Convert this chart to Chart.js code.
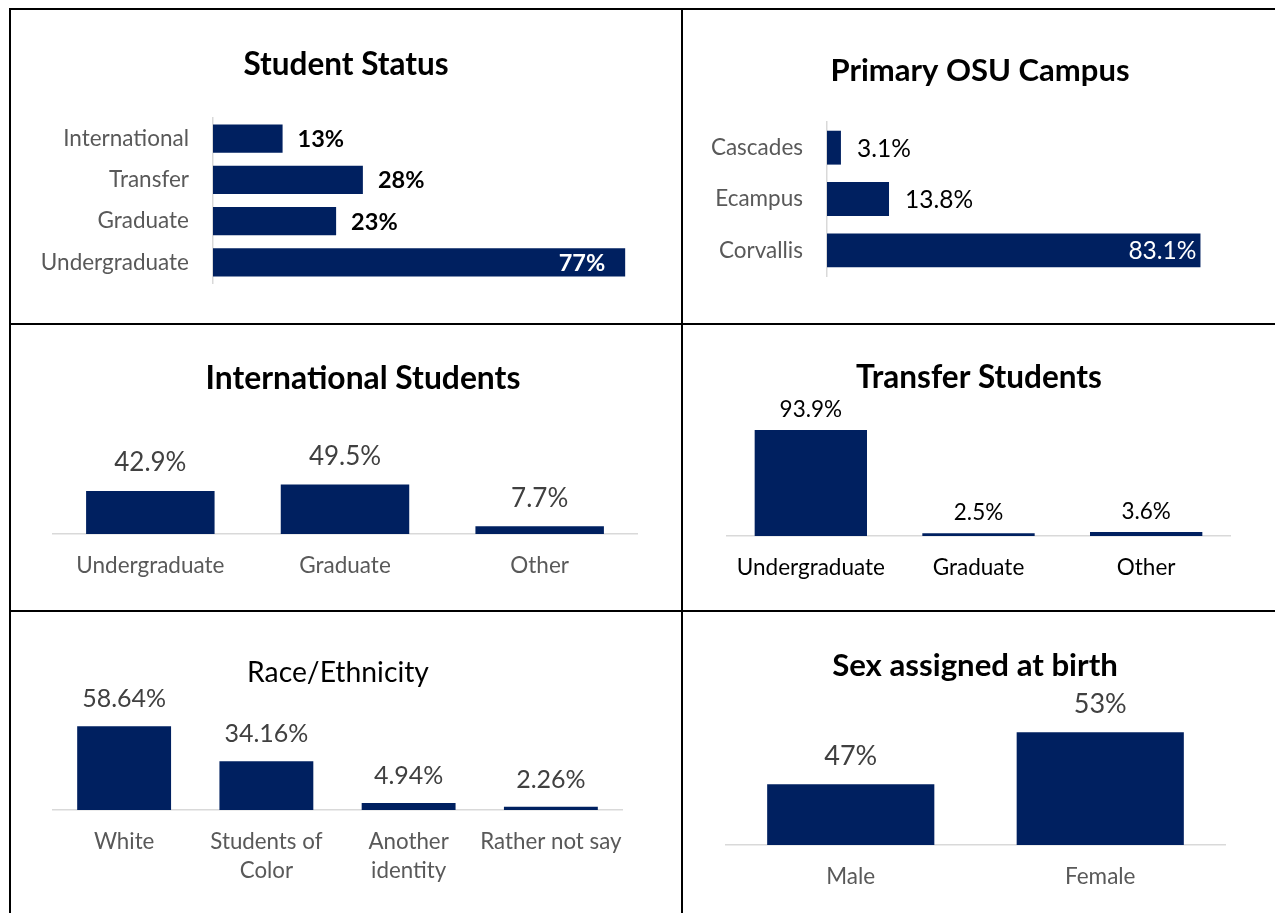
<!DOCTYPE html>
<html><head><meta charset="utf-8">
<script src="https://cdn.jsdelivr.net/npm/chart.js@4.4.1/dist/chart.umd.min.js"></script>
<style>
html,body{margin:0;padding:0;background:#fff;width:1275px;height:913px;overflow:hidden;}
.cell{position:absolute;}
.line{position:absolute;background:#000;}
</style></head><body>
<div class="line" style="left:9px;top:8px;width:1266px;height:2px"></div>
<div class="line" style="left:9px;top:8px;width:2px;height:905px"></div>
<div class="line" style="left:681px;top:8px;width:2px;height:905px"></div>
<div class="line" style="left:9px;top:323px;width:1266px;height:2px"></div>
<div class="line" style="left:9px;top:610px;width:1266px;height:2px"></div>
<div class="cell" id="c1" style="left:11px;top:10px;width:670px;height:313px"><canvas id="k1"></canvas></div>
<div class="cell" id="c2" style="left:683px;top:10px;width:592px;height:313px"><canvas id="k2"></canvas></div>
<div class="cell" id="c3" style="left:11px;top:325px;width:670px;height:285px"><canvas id="k3"></canvas></div>
<div class="cell" id="c4" style="left:683px;top:325px;width:592px;height:285px"><canvas id="k4"></canvas></div>
<div class="cell" id="c5" style="left:11px;top:612px;width:670px;height:301px"><canvas id="k5"></canvas></div>
<div class="cell" id="c6" style="left:683px;top:612px;width:592px;height:301px"><canvas id="k6"></canvas></div>
<script>
// ---- data ----
const statusCategories = ['International', 'Transfer', 'Graduate', 'Undergraduate'];
const statusValues = [13, 28, 23, 77];

const campusCategories = ['Cascades', 'Ecampus', 'Corvallis'];
const campusValues = [3.1, 13.8, 83.1];

const intlCategories = ['Undergraduate', 'Graduate', 'Other'];
const intlValues = [42.9, 49.5, 7.7];

const transferCategories = ['Undergraduate', 'Graduate', 'Other'];
const transferValues = [93.9, 2.5, 3.6];

const raceCategories = ['White', ['Students of', 'Color'], ['Another', 'identity'], 'Rather not say'];
const raceValues = [58.64, 34.16, 4.94, 2.26];

const sexCategories = ['Male', 'Female'];
const sexValues = [47, 53];

// ---- style ----
const FONT = 'Lato, "Open Sans", sans-serif';
const BAR = '#002060';

const valueLabels = {
  id: 'valueLabels',
  afterDatasetsDraw(chart, args, o) {
    if (!o || !o.size) return;
    const ctx = chart.ctx;
    const meta = chart.getDatasetMeta(0);
    const ds = chart.data.datasets[0];
    ctx.save();
    ctx.font = (o.weight || 'normal') + ' ' + o.size + 'px ' + FONT;
    meta.data.forEach((bar, i) => {
      const txt = ds.data[i].toFixed(o.decimals) + '%';
      const inside = (o.inside || []).includes(i);
      ctx.fillStyle = inside ? '#ffffff' : o.color;
      if (chart.options.indexAxis === 'y') {
        ctx.textBaseline = 'middle';
        if (inside) { ctx.textAlign = 'right'; ctx.fillText(txt, bar.x - o.insideOffset, bar.y + 1); }
        else { ctx.textAlign = 'left'; ctx.fillText(txt, bar.x + o.offset, bar.y + 1); }
      } else {
        ctx.textAlign = 'center'; ctx.textBaseline = 'middle';
        ctx.fillText(txt, bar.x, bar.y - o.offset);
      }
    });
    ctx.restore();
  }
};
const panelTitle = {
  id: 'panelTitle',
  afterDraw(chart, args, o) {
    if (!o || !o.text) return;
    const ctx = chart.ctx;
    ctx.save();
    ctx.font = (o.bold ? 'bold ' : 'normal ') + o.size + 'px ' + FONT;
    ctx.fillStyle = '#000';
    ctx.textAlign = 'center';
    ctx.textBaseline = 'middle';
    ctx.fillText(o.text, o.x, o.y);
    ctx.restore();
  }
};
Chart.register(valueLabels, panelTitle);

function build(id, cell, s) {
  const horiz = s.horizontal;
  const padding = {
    top: s.area.t - cell.y,
    left: horiz ? 0 : s.area.l - cell.x,
    right: cell.x + cell.w - s.area.r,
    bottom: horiz ? cell.y + cell.h - s.area.b : 0
  };
  const catAxis = {
    type: 'category',
    display: true,
    grid: { display: false, drawTicks: false },
    border: { display: true, color: '#d9d9d9', width: 1.5 },
    ticks: {
      font: { family: FONT, size: s.tickSize, lineHeight: s.tickLH || 1.2 },
      color: s.tickColor, padding: s.tickPad, autoSkip: false, maxRotation: 0, minRotation: 0
    },
    afterFit: sc => { if (horiz) sc.width = s.area.l - cell.x; else sc.height = cell.y + cell.h - s.area.b; }
  };
  const valAxis = { type: 'linear', display: false, min: s.min, max: s.max };
  const scales = horiz ? { y: catAxis, x: valAxis } : { x: catAxis, y: valAxis };
  return new Chart(document.getElementById(id), {
    type: 'bar',
    data: {
      labels: s.labels,
      datasets: [{ data: s.values, backgroundColor: BAR, borderWidth: 0,
        barPercentage: 1, categoryPercentage: s.catPct }]
    },
    options: {
      indexAxis: horiz ? 'y' : 'x',
      responsive: true, maintainAspectRatio: false, animation: false,
      layout: { padding },
      scales,
      plugins: {
        legend: { display: false }, tooltip: { enabled: false }, title: { display: false },
        valueLabels: s.vl,
        panelTitle: Object.assign({}, s.title, { x: s.title.x - cell.x, y: s.title.y - cell.y })
      }
    }
  });
}

build('k1', { x: 11, y: 10, w: 670, h: 313 }, {
  horizontal: true, labels: statusCategories, values: statusValues, min: 0, max: 85,
  area: { l: 213, t: 118, r: 668, b: 283 }, catPct: 0.68,
  tickSize: 22.5, tickColor: '#595959', tickPad: 24,
  vl: { size: 23.5, weight: 'bold', color: '#000', decimals: 0, offset: 15, inside: [3], insideOffset: 20 },
  title: { text: 'Student Status', x: 346, y: 65, size: 31.5, bold: true }
});
build('k2', { x: 683, y: 10, w: 592, h: 313 }, {
  horizontal: true, labels: campusCategories, values: campusValues, min: 0, max: 85,
  area: { l: 827, t: 122, r: 1209, b: 276 }, catPct: 0.66,
  tickSize: 22.5, tickColor: '#595959', tickPad: 24,
  vl: { size: 24.5, weight: 'normal', color: '#000', decimals: 1, offset: 16, inside: [2], insideOffset: 4 },
  title: { text: 'Primary OSU Campus', x: 980, y: 71, size: 31, bold: true }
});
build('k3', { x: 11, y: 325, w: 670, h: 285 }, {
  horizontal: false, labels: intlCategories, values: intlValues, min: 0, max: 100,
  area: { l: 53, t: 434, r: 637, b: 534 }, catPct: 0.66,
  tickSize: 22.5, tickColor: '#595959', tickPad: 18,
  vl: { size: 26, color: '#404040', decimals: 1, offset: 28 },
  title: { text: 'International Students', x: 363, y: 379, size: 31.8, bold: true }
});
build('k4', { x: 683, y: 325, w: 592, h: 285 }, {
  horizontal: false, labels: transferCategories, values: transferValues, min: 0, max: 100,
  area: { l: 727, t: 423, r: 1230, b: 536 }, catPct: 0.67,
  tickSize: 22.5, tickColor: '#000', tickPad: 18,
  vl: { size: 22.5, color: '#000', decimals: 1, offset: 20 },
  title: { text: 'Transfer Students', x: 979, y: 378, size: 31.5, bold: true }
});
build('k5', { x: 11, y: 612, w: 670, h: 301 }, {
  horizontal: false, labels: raceCategories, values: raceValues, min: 0, max: 70,
  area: { l: 53, t: 710, r: 622, b: 810 }, catPct: 0.66,
  tickSize: 22.3, tickLH: 1.3, tickColor: '#595959', tickPad: 17,
  vl: { size: 25, color: '#404040', decimals: 2, offset: 27 },
  title: { text: 'Race/Ethnicity', x: 338, y: 673, size: 28.3, bold: false }
});
build('k6', { x: 683, y: 612, w: 592, h: 301 }, {
  horizontal: false, labels: sexCategories, values: sexValues, min: 40, max: 55,
  area: { l: 726, t: 715, r: 1225, b: 845 }, catPct: 0.67,
  tickSize: 22.5, tickColor: '#595959', tickPad: 18,
  vl: { size: 27, color: '#404040', decimals: 0, offset: 28 },
  title: { text: 'Sex assigned at birth', x: 975, y: 666, size: 31.2, bold: true }
});
</script>
</body></html>
